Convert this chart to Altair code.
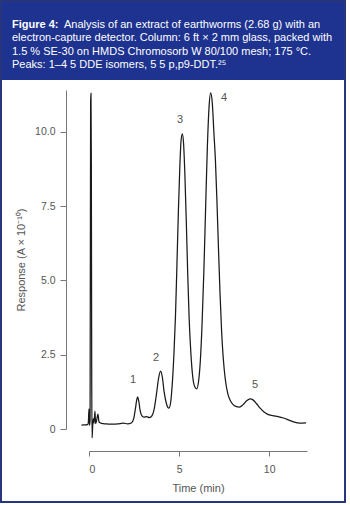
import altair as alt
import pandas as pd

# ---- trace data (time in min, response in A x 1e-10) ----
time_min = [-0.42, -0.25, -0.08, -0.04, 0.0, 0.03, 0.06, 0.09, 0.11, 0.13, 0.15, 0.17,
            0.2, 0.24, 0.28, 0.33, 0.37, 0.42, 0.5, 0.55, 0.65, 0.8, 1.0, 1.3, 1.6,
            1.9, 2.15, 2.35, 2.48, 2.58, 2.65, 2.7, 2.76, 2.84, 2.93, 3.05, 3.2,
            3.35, 3.5, 3.62, 3.75, 3.86, 3.97, 4.07, 4.17, 4.3, 4.43, 4.52, 4.62,
            4.72, 4.8, 4.88, 4.96, 5.04, 5.11, 5.18, 5.25, 5.32, 5.4, 5.48, 5.56,
            5.65, 5.75, 5.87, 5.98, 6.08, 6.18, 6.28, 6.38, 6.48, 6.57, 6.66, 6.75,
            6.84, 6.93, 7.02, 7.1, 7.18, 7.27, 7.36, 7.45, 7.56, 7.7, 7.85, 8.0,
            8.15, 8.35, 8.55, 8.75, 8.95, 9.1, 9.3, 9.5, 9.7, 9.9, 10.2, 10.5,
            10.8, 11.1, 11.4, 11.7, 12.05]
response = [0.13, 0.14, 0.15, 0.2, 0.68, 0.12, 0.3, 11.0, 11.3, 9.0, 2.0, -0.3,
            0.05, 0.35, 0.2, 0.6, 0.18, 0.28, 0.5, 0.25, 0.2, 0.18, 0.17, 0.16, 0.17,
            0.2, 0.17, 0.2, 0.35, 0.7, 0.98, 1.08, 0.95, 0.62, 0.45, 0.4, 0.42,
            0.38, 0.45, 0.68, 1.2, 1.7, 1.95, 1.75, 1.25, 0.85, 0.7, 0.85, 1.5,
            2.6, 3.8, 5.5, 7.3, 8.8, 9.7, 9.93, 9.6, 8.6, 7.0, 5.2, 3.7,
            2.6, 1.8, 1.42, 1.35, 1.6, 2.3, 3.6, 5.4, 7.6, 9.5, 10.8, 11.31,
            11.0, 10.0, 9.0, 7.7, 6.2, 4.6, 3.3, 2.4, 1.7, 1.2, 0.95, 0.82,
            0.76, 0.74, 0.82, 0.95, 1.01, 0.98, 0.85, 0.7, 0.58, 0.5, 0.45, 0.42,
            0.37, 0.3, 0.23, 0.2, 0.21]

# ---- peak labels ----
peak_ids = ["1", "2", "3", "4", "5"]
peak_t = [2.44, 3.72, 5.06, 7.5, 9.22]
peak_r = [1.65, 2.39, 10.4, 11.14, 1.48]

# ---- axes ----
x_ticks = [0, 5, 10]
y_ticks = [0, 2.5, 5, 7.5, 10]
x_title = "Time (min)"
y_title = "Response (A \u00d7 10\u207b\u00b9\u2070)"

# ---- caption ----
caption_bold = "Figure 4:"
caption_lines = [
    "Analysis of an extract of earthworms (2.68 g) with an",
    "electron-capture detector. Column: 6 ft  \u00d7 2 mm glass, packed with",
    "1.5 % SE-30 on HMDS Chromosorb W 80/100 mesh; 175 \u00b0C.",
    "Peaks: 1\u20134 5 DDE isomers, 5 5 p,p9-DDT.\u00b2\u2075",
]

FONT = "Liberation Sans"
BAND = "#1e3290"
FRAME = "#28357c"

trace = pd.DataFrame({"t": time_min, "r": response})
peaks = pd.DataFrame({"id": peak_ids, "t": peak_t, "r": peak_r})

xs = alt.Scale(domain=[0, 12.1], nice=False, zero=False)
ys = alt.Scale(domain=[0, 11.41], nice=False, zero=False)

line = alt.Chart(trace).mark_line(color="#1a1a1a", strokeWidth=1.25, interpolate="monotone").encode(
    x=alt.X("t:Q", scale=xs, axis=alt.Axis(
        values=x_ticks, title=x_title, offset=22, grid=False, tickSize=5,
        labelPadding=8, titlePadding=8, domainColor="#777", tickColor="#777",
        labelColor="#555", titleColor="#555", labelFontSize=10.5, titleFontSize=11,
        titleFontWeight="normal", labelFont=FONT, titleFont=FONT)),
    y=alt.Y("r:Q", scale=ys, axis=alt.Axis(
        values=y_ticks, title=y_title, offset=23, grid=False, tickSize=6,
        labelPadding=5, titlePadding=8, domainColor="#777", tickColor="#777",
        labelColor="#555", titleColor="#555", labelFontSize=10.5, titleFontSize=11,
        titleFontWeight="normal", labelFont=FONT, titleFont=FONT,
        labelExpr="datum.value == 0 ? '0' : format(datum.value, '.1f')")),
)

labels = alt.Chart(peaks).mark_text(font=FONT, fontSize=11, color="#555").encode(
    x=alt.X("t:Q", scale=xs), y=alt.Y("r:Q", scale=ys), text="id:N")

one = pd.DataFrame({"a": [0]})
band = alt.Chart(one).mark_rect(color=BAND).encode(
    x=alt.value(-88), x2=alt.value(256), y=alt.value(-90), y2=alt.value(-10))
frame = alt.Chart(one).mark_rect(fill=None, stroke=FRAME, strokeWidth=2).encode(
    x=alt.value(-88), x2=alt.value(256), y=alt.value(-89), y2=alt.value(412))

bold = alt.Chart(one).mark_text(font=FONT, fontSize=11, fontWeight="bold", color="white",
                                align="left", baseline="middle").encode(
    x=alt.value(-77), y=alt.value(-65), text=alt.value(caption_bold))
cap_layers = []
cap_x = [-25, -77, -77, -77]
cap_y = [-65, -51.7, -38.3, -25]
for i, txt in enumerate(caption_lines):
    cap_layers.append(alt.Chart(one).mark_text(font=FONT, fontSize=11, color="white",
                                               align="left", baseline="middle").encode(
        x=alt.value(cap_x[i]), y=alt.value(cap_y[i]), text=alt.value(txt)))

chart = alt.layer(band, frame, bold, *cap_layers, line, labels).properties(
    width=218, height=339,
    autosize=alt.AutoSizeParams(type="none"),
    padding={"left": 89, "top": 90, "right": 43, "bottom": 76},
    background="white",
).configure_view(stroke=None)

chart.save("out.html", embed_options={"renderer": "svg", "actions": False})
